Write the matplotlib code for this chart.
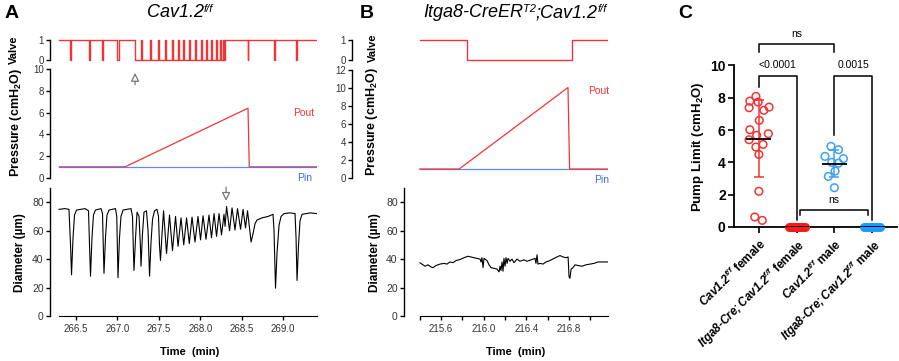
import numpy as np
import matplotlib
matplotlib.use('Agg')
import matplotlib.pyplot as plt

plt.rcParams['font.family'] = ['Liberation Sans', 'DejaVu Sans']
plt.rcParams['mathtext.fontset'] = 'custom'
plt.rcParams['mathtext.rm'] = 'Liberation Sans:italic'
plt.rcParams['mathtext.it'] = 'Liberation Sans:italic'
plt.rcParams['mathtext.bf'] = 'Liberation Sans:italic:bold'
plt.rcParams['mathtext.sf'] = 'Liberation Sans:bold'

RED = '#f23434'
BLUE = '#3a6cf0'
LBLUE = '#3fa0f0'
KBLUE = '#1c9cff'

# ---------------- panel A data (Cav1.2 f/f) ----------------
a_start, a_end = 266.30, 269.41
# valve closed (0) intervals
valve_a_low = [(266.422, 266.440), (266.651, 266.669), (266.808, 266.826), (267.001, 267.019),
               (267.213, 268.300), (268.574, 268.581), (268.885, 268.903), (269.151, 269.169)]
# brief openings during the long closed period
valve_a_spikes = [267.285, 267.394, 267.490, 267.575, 267.659, 267.732, 267.792, 267.865,
                  267.937, 268.010, 268.070, 268.130, 268.191, 268.239, 268.275]

pout_a_t = [266.30, 267.092, 268.577, 268.592, 269.41]
pout_a_v = [1.0, 1.0, 6.4, 1.0, 1.0]
pin_a_t = [266.30, 269.41]
pin_a_v = [1.0, 1.0]

diam_a_t = [266.295, 266.367, 266.415, 266.434, 266.446, 266.464, 266.482, 266.506, 266.609,
            266.651, 266.663, 266.675, 266.693, 266.711, 266.735, 266.802,
            266.820, 266.829, 266.838, 266.856, 266.874, 266.899, 266.977,
            266.992, 266.999, 267.007, 267.025, 267.043, 267.068, 267.164,
            267.182, 267.191, 267.200, 267.219, 267.237, 267.261, 267.277, 267.285, 267.303,
            267.321, 267.351, 267.370, 267.388, 267.406, 267.424, 267.448, 267.478,
            267.496, 267.508, 267.520, 267.539, 267.557,
            267.593, 267.629, 267.665, 267.702, 267.732, 267.768, 267.801, 267.835, 267.868,
            267.901, 267.937, 267.973, 268.004, 268.034, 268.070, 268.106, 268.136, 268.167,
            268.197, 268.227, 268.257, 268.287, 268.300, 268.318, 268.354, 268.384, 268.420,
            268.450, 268.487, 268.517, 268.547, 268.571, 268.595, 268.614, 268.638, 268.662,
            268.686, 268.746, 268.819, 268.879, 268.891, 268.909, 268.928, 268.952, 268.976,
            269.012, 269.085, 269.145, 269.157, 269.169, 269.187, 269.205, 269.230, 269.326, 269.41]
diam_a_v = [75, 75.5, 75, 50, 29, 55, 71, 74.5, 75.5,
            74, 50, 28, 55, 71, 74.5, 75.5,
            72, 50, 30, 55, 71, 74.5, 75.5,
            70, 50, 27, 55, 70, 74.5, 75.5,
            70, 50, 32, 55, 73, 70, 50, 35, 58,
            73, 74, 60, 28, 52, 68, 74, 75,
            70, 50, 39, 58, 74,
            44, 71, 46, 70, 49, 69, 50, 69, 51,
            69.5, 52, 70, 53.5, 70.5, 54, 71, 55, 72,
            56, 72, 57, 71.5, 63, 77, 60, 76, 60.5,
            75.5, 61, 75, 62, 74, 62, 52, 58, 65,
            67.5, 69, 70, 71.5, 60, 19.5, 45, 64, 70,
            72, 72.5, 72, 55, 25, 50, 67, 71.5, 72.5, 72]

# ---------------- panel B data (Itga8-CreERT2;Cav1.2 f/f) ----------------
b_start, b_end = 215.40, 217.165
valve_b_low = [(215.84, 216.83)]
pout_b_t = [215.40, 215.77, 216.79, 216.805, 217.165]
pout_b_v = [1.0, 1.0, 10.05, 1.0, 1.0]
pin_b_t = [215.40, 217.165]
pin_b_v = [1.0, 1.0]

diam_b_t = [215.403, 215.431, 215.450, 215.478, 215.506, 215.525, 215.553, 215.591, 215.628,
            215.656, 215.684, 215.712, 215.741, 215.778, 215.816, 215.853, 215.881, 215.909,
            215.937, 215.966, 215.975, 215.984, 215.994, 216.003, 216.012, 216.031, 216.050,
            216.069, 216.097, 216.125, 216.144, 216.153, 216.162, 216.172, 216.181, 216.190,
            216.200, 216.209, 216.219, 216.228, 216.247, 216.265, 216.284, 216.312, 216.340,
            216.378, 216.406, 216.444, 216.481, 216.490, 216.500, 216.509, 216.528, 216.556,
            216.584, 216.622, 216.659, 216.687, 216.715, 216.744, 216.772, 216.791, 216.800,
            216.809, 216.819, 216.837, 216.856, 216.884, 216.922, 216.959, 216.997, 217.034,
            217.072, 217.109, 217.165]
diam_b_v = [37.4, 36, 35, 36, 34.5, 34, 35.5, 36.5, 37,
            36.5, 38, 37.5, 39, 39.7, 41, 42, 41.5, 41,
            40.5, 40, 38, 41, 34, 40.5, 40, 39, 36,
            34, 33.5, 33, 31, 35, 32, 38, 31.5, 40.5,
            35, 41, 37, 40.5, 38.5, 40, 37.5, 40, 38.5,
            39.5, 38.5, 39.5, 40.5, 37, 43, 36.5, 37, 36.5,
            38, 39, 40.5, 41.5, 42.5, 41.5, 41, 41.5, 27.5,
            26.5, 33, 34, 36, 35.5, 35, 36, 36.5, 37,
            38, 38, 38]

# ---------------- panel C data (pump limit, cmH2O) ----------------
wt_female = [8.08, 7.79, 7.73, 7.42, 7.38, 7.22, 6.60, 6.02, 5.77, 5.67, 5.40, 5.11, 4.95,
             4.49, 2.21, 0.62, 0.41]
wt_female_x = [-0.08, -0.24, -0.02, 0.27, -0.26, 0.13, 0.01, -0.24, 0.25, -0.06, -0.26, 0.11,
               -0.08, 0.0, 0.0, -0.11, 0.09]
ko_female = [0.0, 0.0, 0.0, 0.0, 0.0, 0.0, 0.0, 0.0, 0.0]
ko_female_x = [-0.21, -0.16, -0.1, -0.05, 0.0, 0.05, 0.1, 0.16, 0.21]
wt_male = [4.99, 4.78, 4.37, 4.23, 4.0, 3.95, 3.46, 3.13, 2.43]
wt_male_x = [-0.09, 0.11, -0.25, 0.24, -0.07, 0.11, 0.02, -0.16, 0.0]
ko_male = [0.0, 0.0, 0.0, 0.0, 0.0, 0.0, 0.0, 0.0]
ko_male_x = [-0.21, -0.15, -0.09, -0.03, 0.03, 0.09, 0.15, 0.21]
xlabels = [r'$\mathbf{Cav1.2}^{\mathbf{f/f}}$ female',
           r'$\mathbf{Itga8}$-$\mathbf{Cre;Cav1.2}^{\mathbf{f/f}}$ female',
           r'$\mathbf{Cav1.2}^{\mathbf{f/f}}$ male',
           r'$\mathbf{Itga8}$-$\mathbf{Cre;Cav1.2}^{\mathbf{f/f}}$ male']


def valve_steps(t0, t1, lows, spikes=(), width=0.008):
    pieces = []
    for a, b in lows:
        inner = [s for s in spikes if a < s < b]
        edges = [a]
        for s in inner:
            edges += [s, s + width]
        edges.append(b)
        for i in range(0, len(edges), 2):
            pieces.append((edges[i], edges[i + 1]))
    t, v = [t0], [1]
    for a, b in pieces:
        t += [a, a, b, b]
        v += [1, 0, 0, 1]
    t.append(t1)
    v.append(1)
    return t, v


W, H = 899, 361


def box(x0, y0, x1, y1):
    return [x0 / W, 1 - y1 / H, (x1 - x0) / W, (y1 - y0) / H]


def fx(x):
    return x / W


def fy(y):
    return 1 - y / H


def trace_axis(ax, lo, hi, ticks, labelsize=7):
    for s in ['top', 'right', 'bottom']:
        ax.spines[s].set_visible(False)
    ax.spines['left'].set_bounds(lo, hi)
    ax.spines['left'].set_linewidth(1.0)
    ax.set_yticks(ticks)
    ax.tick_params(axis='y', length=3, width=1, labelsize=labelsize, labelcolor='#333', pad=1.5)
    ax.set_xticks([])
    ax.patch.set_alpha(0)


fig = plt.figure(figsize=(8.99, 3.61), dpi=100)

# ---------- panel A ----------
a_left = 266.5 - 26 / 82.8
ax_av = fig.add_axes(box(50, 36, 317, 64))
t, v = valve_steps(a_start, a_end, valve_a_low, valve_a_spikes)
ax_av.plot(t, v, color=RED, lw=1.0)
ax_av.set_xlim(a_left, a_end)
ax_av.set_ylim(-0.2, 1.2)
trace_axis(ax_av, 0, 1, [0, 1])

ax_ap = fig.add_axes(box(50, 66, 317, 181))
ax_ap.plot(pout_a_t, pout_a_v, color=RED, lw=0.9)
ax_ap.plot(pin_a_t, pin_a_v, color=BLUE, lw=0.9, alpha=0.8)
ax_ap.set_xlim(a_left, a_end)
ax_ap.set_ylim(-0.3, 10.28)
trace_axis(ax_ap, 0, 10, [0, 2, 4, 6, 8, 10])
ax_ap.annotate('', xy=(267.213, 9.9), xytext=(267.213, 8.3),
               arrowprops=dict(arrowstyle='-|>,head_length=0.5,head_width=0.25', fc='white',
                               ec='#777', lw=0.9), annotation_clip=False)

ax_ad = fig.add_axes(box(50, 188, 317, 316))
ax_ad.plot(diam_a_t, diam_a_v, color='k', lw=0.8)
ax_ad.set_xlim(a_left, a_end)
ax_ad.set_ylim(0, 90)
trace_axis(ax_ad, 0, 90, [0, 20, 40, 60, 80], labelsize=7.5)
ax_ad.spines['bottom'].set_visible(True)
ax_ad.spines['bottom'].set_bounds(a_start, a_end)
ax_ad.set_xticks([266.5, 267.0, 267.5, 268.0, 268.5, 269.0])
ax_ad.set_xticklabels(['266.5', '267.0', '267.5', '268.0', '268.5', '269.0'])
ax_ad.tick_params(axis='x', length=3, width=1, labelsize=7, labelcolor='#333', pad=3)
ax_ad.annotate('', xy=(268.312, 79), xytext=(268.312, 92.5),
               arrowprops=dict(arrowstyle='-|>,head_length=0.5,head_width=0.25', fc='white',
                               ec='#777', lw=0.9), annotation_clip=False)

# ---------- panel B ----------
b_left = 215.6 - 89 * 0.009372
ax_bv = fig.add_axes(box(352, 36, 608, 64))
t, v = valve_steps(b_start, b_end, valve_b_low)
ax_bv.plot(t, v, color=RED, lw=1.0)
ax_bv.set_xlim(b_left, b_end)
ax_bv.set_ylim(-0.2, 1.2)
trace_axis(ax_bv, 0, 1, [0, 1])

ax_bp = fig.add_axes(box(352, 66, 608, 181))
ax_bp.plot(pin_b_t, pin_b_v, color=BLUE, lw=0.9, alpha=0.8)
ax_bp.plot(pout_b_t, pout_b_v, color=RED, lw=0.9)
ax_bp.set_xlim(b_left, b_end)
ax_bp.set_ylim(-0.33, 12.44)
trace_axis(ax_bp, 0, 12, [0, 2, 4, 6, 8, 10, 12])

ax_bd = fig.add_axes(box(404, 188, 608, 316))
ax_bd.plot(diam_b_t, diam_b_v, color='k', lw=0.8)
ax_bd.set_xlim(215.6 - 37 * 0.009372, b_end)
ax_bd.set_ylim(0, 90)
trace_axis(ax_bd, 0, 90, [0, 20, 40, 60, 80], labelsize=7.5)
ax_bd.spines['bottom'].set_visible(True)
ax_bd.spines['bottom'].set_bounds(b_start, b_end)
ax_bd.set_xticks([215.4, 215.6, 215.8, 216.0, 216.2, 216.4, 216.6, 216.8, 217.0])
ax_bd.set_xticklabels(['', '215.6', '', '216.0', '', '216.4', '', '216.8', ''])
ax_bd.tick_params(axis='x', length=3, width=1, labelsize=7, labelcolor='#333', pad=3)

# shared trace labels
for x, y, s, size in [(14, 50, 'Valve', 8), (16, 123, 'Pressure (cmH$_\\mathsf{2}$O)', 9),
                      (20, 253, 'Diameter (µm)', 8.5), (373, 48, 'Valve', 8),
                      (372, 122, 'Pressure (cmH$_\\mathsf{2}$O)', 9), (375, 253, 'Diameter (µm)', 8.5)]:
    fig.text(fx(x), fy(y), s, rotation=90, ha='center', va='center', fontweight='bold', fontsize=size)
fig.text(fx(190), fy(352), 'Time  (min)', ha='center', va='center', fontweight='bold', fontsize=8)
fig.text(fx(516), fy(352), 'Time  (min)', ha='center', va='center', fontweight='bold', fontsize=8)
fig.text(fx(314), fy(113), 'Pout', ha='right', va='center', color=RED, fontsize=7.5)
fig.text(fx(312), fy(178), 'Pin', ha='right', va='center', color=BLUE, fontsize=7.5)
fig.text(fx(609), fy(91), 'Pout', ha='right', va='center', color=RED, fontsize=7.5)
fig.text(fx(609), fy(180), 'Pin', ha='right', va='center', color=BLUE, fontsize=7.5)

# panel letters and titles
for x, s in [(5, 'A'), (360, 'B'), (678, 'C')]:
    fig.text(fx(x), fy(18), s, fontweight='bold', fontsize=14, va='baseline')


def chain(parts, x, y):
    base = None
    prev = None
    for s, size, sup in parts:
        if base is None:
            prev = base = fig.text(fx(x), fy(y), s, style='italic', fontsize=size, va='baseline')
        elif sup:
            prev = ax_av.annotate(s, xy=(1, 0.42), xycoords=(prev, base), va='bottom', ha='left',
                                  style='italic', fontsize=size, annotation_clip=False)
        else:
            prev = base = ax_av.annotate(s, xy=(1, 0), xycoords=(prev, base), va='bottom',
                                         ha='left', style='italic', fontsize=size,
                                         annotation_clip=False)


chain([('Cav1.2', 13, False), ('f/f', 8, True)], 147, 17)
chain([('Itga8-CreER', 13, False), ('T2', 8, True), (';Cav1.2', 13, False), ('f/f', 8, True)], 423, 17)

# ---------- panel C ----------
ax_c = fig.add_axes(box(734, 25, 897, 227))
ax_c.patch.set_alpha(0)
ax_c.scatter(np.add(0, wt_female_x), wt_female, s=30, facecolors='none', edgecolors=RED,
             linewidths=1.1, clip_on=False, zorder=3)
ax_c.scatter(np.add(2, wt_male_x), wt_male, s=30, facecolors='none', edgecolors=LBLUE,
             linewidths=1.1, clip_on=False, zorder=3)
ax_c.scatter(np.add(1, ko_female_x), ko_female, s=30, color='#ff1a1a', clip_on=False, zorder=3)
ax_c.scatter(np.add(3, ko_male_x), ko_male, s=30, color=KBLUE, clip_on=False, zorder=3)

for c, vals, col in [(0, wt_female, RED), (1, ko_female, '#ff1a1a'), (2, wt_male, LBLUE), (3, ko_male, KBLUE)]:
    m = np.mean(vals)
    sd = np.std(vals, ddof=1)
    ax_c.hlines(m, c - 0.33, c + 0.33, color='k', lw=1.3, zorder=4)
    if sd > 0:
        ax_c.errorbar(c, m, yerr=sd, fmt='none', ecolor=col, elinewidth=1.1, capsize=3.5,
                      capthick=1.1, zorder=2)

bk = dict(color='k', lw=1.1, clip_on=False)
ax_c.plot([0, 0, 2, 2], [10.82, 11.34, 11.34, 10.82], **bk)
ax_c.text(1, 11.96, 'ns', ha='center', va='center', fontsize=7.5)
ax_c.plot([0, 0, 1, 1], [8.66, 9.32, 9.32, 0.41], **bk)
ax_c.text(0.5, 10.0, '<0.0001', ha='center', va='center', fontsize=7.5)
ax_c.plot([2, 2, 3, 3], [5.67, 9.32, 9.32, 0.41], **bk)
ax_c.text(2.5, 10.0, '0.0015', ha='center', va='center', fontsize=7.5)
ax_c.plot([1.08, 1.08, 2.9, 2.9], [0.72, 1.07, 1.07, 0.72], **bk)
ax_c.text(1.99, 1.69, 'ns', ha='center', va='center', fontsize=7.5)

ax_c.set_xlim(-0.66, 3.66)
ax_c.set_ylim(0, 12.5)
for s in ['top', 'right']:
    ax_c.spines[s].set_visible(False)
ax_c.spines['left'].set_bounds(0, 10)
ax_c.spines['left'].set_linewidth(1.3)
ax_c.spines['bottom'].set_linewidth(1.3)
ax_c.set_yticks([0, 2, 4, 6, 8, 10])
ax_c.set_yticklabels(['0', '2', '4', '6', '8', '10'], fontweight='bold')
ax_c.tick_params(axis='y', length=4, width=1.2, labelsize=10, pad=2)
ax_c.set_xticks([0, 1, 2, 3])
ax_c.set_xticklabels(xlabels, rotation=45, ha='right', rotation_mode='anchor',
                     fontweight='bold', fontsize=8.5)
ax_c.tick_params(axis='x', length=4, width=1.2, pad=3)
fig.text(fx(698), fy(147), 'Pump Limit (cmH$_\\mathsf{2}$O)', rotation=90, ha='center',
         va='center', fontweight='bold', fontsize=9.5)

fig.savefig('out.png', dpi=100)
